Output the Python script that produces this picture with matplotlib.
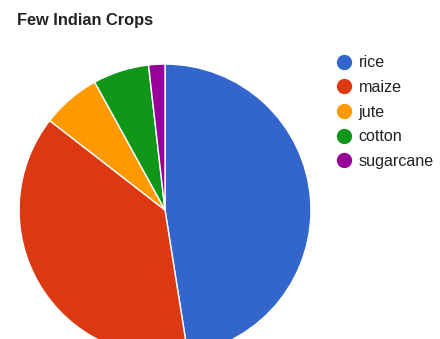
import matplotlib.pyplot as plt
from matplotlib.lines import Line2D

# crop shares (percent)
crops = ['rice', 'maize', 'jute', 'cotton', 'sugarcane']
shares = [47.5, 38.0, 6.5, 6.2, 1.8]
colors = ['#3366cc', '#dc3912', '#ff9900', '#109618', '#990099']

plt.rcParams['font.family'] = ['Liberation Sans', 'DejaVu Sans']

fig = plt.figure(figsize=(4.4, 3.39), dpi=100)
ax = fig.add_axes([0.0432, -0.050, 0.6636, 0.861])
ax.pie(shares, colors=colors, startangle=90, counterclock=False,
       wedgeprops=dict(edgecolor='white', linewidth=1))
ax.set_xlim(-1, 1)
ax.set_ylim(-1, 1)
ax.set_aspect('equal')
ax.axis('off')

fig.text(17 / 440, 1 - 20 / 339, 'Few Indian Crops', fontsize=11.8, weight='bold',
         color='#222222', ha='left', va='center')

handles = [Line2D([], [], marker='o', linestyle='', markersize=10,
                  markerfacecolor=c, markeredgecolor=c) for c in colors]
fig.legend(handles, crops, loc='upper left', bbox_to_anchor=(328 / 440, 1 - 49 / 339),
           frameon=False, fontsize=11.6, labelspacing=0.6, handletextpad=0.3,
           handlelength=1.2, labelcolor='#222222', borderaxespad=0)

fig.savefig('out.png', dpi=100)
